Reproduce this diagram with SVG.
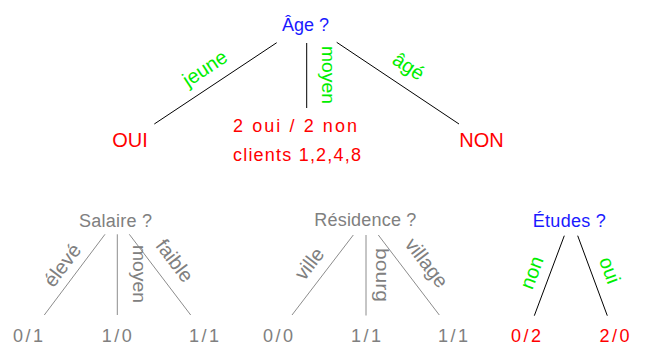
<svg xmlns="http://www.w3.org/2000/svg" width="647" height="347" viewBox="0 0 647 347">
<style>
text{font-family:"Liberation Sans","DejaVu Sans",sans-serif;font-size:18px}
.blue{fill:#1a1aff}
.red{fill:#ff0000}
.gray{fill:#808080}
.green{fill:#00ee00}
.big{font-size:20px}
.lab{font-size:20px}
.c{text-anchor:middle}
.k{stroke:#000;stroke-width:1;fill:none}
.g{stroke:#8c8c8c;stroke-width:1;fill:none}
</style>
<rect width="647" height="347" fill="#fff"/>
<g id="connectors">
<line class="k" x1="276.7" y1="42.7" x2="154.3" y2="124"/>
<line class="k" x1="306.7" y1="43" x2="306.7" y2="108"/>
<line class="k" x1="336.7" y1="42.3" x2="459" y2="124"/>
<line class="g" x1="105" y1="234.3" x2="44.3" y2="315"/>
<line class="g" x1="117.3" y1="234.3" x2="117.3" y2="315"/>
<line class="g" x1="129.3" y1="234.3" x2="190.7" y2="315"/>
<line class="g" x1="353.3" y1="235" x2="292" y2="315"/>
<line class="g" x1="366" y1="235" x2="366" y2="315.5"/>
<line class="g" x1="378.3" y1="235" x2="439.3" y2="315"/>
<line class="k" x1="564.3" y1="235.7" x2="534.3" y2="315.7"/>
<line class="k" x1="577.7" y1="235.7" x2="607.3" y2="315.7"/>
<text class="green c lab" transform="translate(208.6,73.9) rotate(-33.6)">jeune</text>
<text class="green c" transform="translate(321.5,75) rotate(90)" textLength="58" lengthAdjust="spacingAndGlyphs">moyen</text>
<text class="green c lab" transform="translate(404.9,71.9) rotate(33.7)">âgé</text>
<text class="gray c lab" transform="translate(67.8,269.3) rotate(-53)">élevé</text>
<text class="gray c" transform="translate(132.5,274) rotate(90)" textLength="58" lengthAdjust="spacingAndGlyphs">moyen</text>
<text class="gray c lab" transform="translate(169.2,264.8) rotate(53)">faible</text>
<text class="gray c lab" transform="translate(314.7,267.9) rotate(-52.5)">ville</text>
<text class="gray c" transform="translate(376,275) rotate(90)" textLength="54" lengthAdjust="spacingAndGlyphs">bourg</text>
<text class="gray c lab" transform="translate(421.3,266.9) rotate(52.6)">village</text>
<text class="green c lab" transform="translate(538.1,275) rotate(-69.4)">non</text>
<text class="green c lab" transform="translate(603.4,272.6) rotate(69.7)">oui</text>
</g>
<g id="age"><text class="blue c" x="305.5" y="31">Âge ?</text></g>
<g id="oui"><text class="red c big" x="130" y="147">OUI</text></g>
<g id="moyen-leaf">
<text class="red" x="233" y="132" textLength="124" lengthAdjust="spacing">2 oui / 2 non</text>
<text class="red" x="233" y="161" textLength="128" lengthAdjust="spacing">clients 1,2,4,8</text>
</g>
<g id="non"><text class="red c big" x="481.5" y="147">NON</text></g>
<g id="salaire"><text class="gray c" x="115.5" y="226.7" textLength="73" lengthAdjust="spacing">Salaire ?</text></g>
<g id="residence"><text class="gray c" x="365.3" y="225.7" textLength="102" lengthAdjust="spacing">Résidence ?</text></g>
<g id="etudes"><text class="blue c" x="569.3" y="227.3" textLength="73" lengthAdjust="spacing">Études ?</text></g>
<g id="s1"><text class="gray c" x="28" y="341.5" textLength="30" lengthAdjust="spacing">0/1</text></g>
<g id="s2"><text class="gray c" x="116.7" y="341.5" textLength="30" lengthAdjust="spacing">1/0</text></g>
<g id="s3"><text class="gray c" x="204" y="341.5" textLength="30" lengthAdjust="spacing">1/1</text></g>
<g id="r1"><text class="gray c" x="278" y="341.5" textLength="30" lengthAdjust="spacing">0/0</text></g>
<g id="r2"><text class="gray c" x="366" y="341.5" textLength="30" lengthAdjust="spacing">1/1</text></g>
<g id="r3"><text class="gray c" x="453" y="341.5" textLength="30" lengthAdjust="spacing">1/1</text></g>
<g id="e1"><text class="red c" x="526" y="341.5" textLength="30" lengthAdjust="spacing">0/2</text></g>
<g id="e2"><text class="red c" x="614.5" y="341.5" textLength="30" lengthAdjust="spacing">2/0</text></g>
</svg>
